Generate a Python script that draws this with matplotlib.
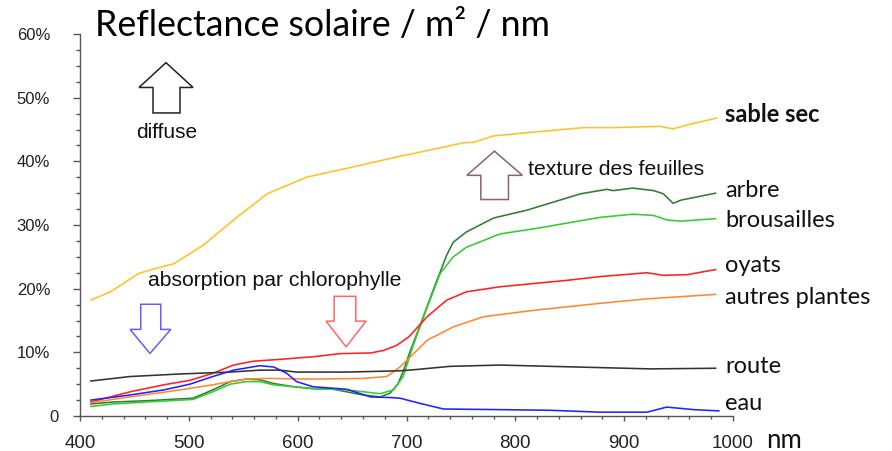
import matplotlib
matplotlib.use("Agg")
import matplotlib.pyplot as plt
from matplotlib.patches import Polygon
from matplotlib.ticker import MultipleLocator, FixedLocator
from matplotlib.transforms import ScaledTranslation

# Spectral reflectance (%) versus wavelength (nm) for several surfaces
sable_nm = [410, 428, 454, 470, 486, 513, 544, 572, 608, 645, 676, 694, 703, 752, 762,
            780, 817, 863, 893, 933, 945, 960, 985]
sable_pct = [18.2, 19.5, 22.4, 23.2, 23.9, 26.8, 31.2, 34.9, 37.5, 38.9, 40.1, 40.8, 41.1,
             42.9, 43.0, 44.0, 44.6, 45.3, 45.3, 45.5, 45.1, 45.8, 46.8]

arbre_nm = [410, 431, 461, 504, 522, 538, 553, 565, 578, 596, 614, 633, 645, 660, 676,
            685, 692, 697, 703, 712, 725, 737, 743, 755, 780, 810, 835, 860, 884, 890,
            908, 927, 936, 945, 952, 984]
arbre_pct = [1.9, 2.2, 2.4, 2.8, 4.1, 5.4, 5.8, 5.7, 5.1, 4.6, 4.3, 4.2, 3.8, 3.3, 3.0,
             3.6, 5.0, 7.0, 10.0, 14.0, 20.0, 25.3, 27.3, 28.9, 31.1, 32.3, 33.6, 34.9,
             35.6, 35.4, 35.8, 35.4, 34.9, 33.4, 33.9, 35.0]

brous_nm = [410, 431, 461, 504, 522, 538, 553, 565, 578, 614, 645, 676, 688, 697, 706,
            719, 731, 743, 755, 786, 817, 878, 908, 927, 939, 952, 984]
brous_pct = [1.5, 1.9, 2.2, 2.6, 3.8, 5.0, 5.4, 5.4, 4.9, 4.3, 4.1, 3.5, 4.1, 6.2, 11.0,
             17.1, 22.4, 25.0, 26.5, 28.6, 29.4, 31.2, 31.7, 31.5, 30.8, 30.6, 31.0]

oyats_nm = [410, 446, 477, 501, 522, 541, 559, 584, 614, 639, 667, 679, 691, 702, 719,
            737, 755, 786, 847, 878, 921, 936, 958, 984]
oyats_pct = [2.2, 3.8, 4.9, 5.6, 6.7, 8.0, 8.6, 8.9, 9.3, 9.8, 9.9, 10.3, 11.1, 12.4,
             15.6, 18.2, 19.5, 20.3, 21.3, 21.9, 22.5, 22.1, 22.2, 23.0]

autres_nm = [410, 446, 492, 522, 538, 553, 572, 614, 660, 682, 694, 703, 719, 743, 771,
             817, 878, 921, 984]
autres_pct = [2.1, 3.0, 4.1, 4.9, 5.4, 5.8, 5.9, 5.8, 5.9, 6.2, 7.7, 9.2, 11.9, 14.0,
              15.6, 16.6, 17.7, 18.4, 19.1]

route_nm = [410, 446, 492, 538, 565, 584, 599, 645, 694, 709, 740, 786, 832, 878, 924, 984]
route_pct = [5.5, 6.2, 6.6, 6.9, 7.2, 7.2, 6.9, 6.9, 7.1, 7.3, 7.8, 8.0, 7.8, 7.6, 7.4, 7.5]

eau_nm = [410, 446, 477, 501, 522, 541, 565, 578, 590, 599, 614, 645, 667, 685, 694, 712,
          734, 786, 832, 878, 921, 939, 964, 987]
eau_pct = [2.5, 3.3, 4.1, 5.0, 6.2, 7.2, 7.9, 7.7, 6.7, 5.4, 4.6, 4.2, 3.0, 2.9, 2.8, 2.0,
           1.1, 1.0, 0.9, 0.6, 0.6, 1.4, 1.0, 0.8]

series_names = ["sable sec", "arbre", "brousailles", "oyats", "autres plantes", "route", "eau"]
x_ticks = [400, 500, 600, 700, 800, 900, 1000]
y_ticks = [0, 10, 20, 30, 40, 50, 60]
y_tick_labels = ["0", "10%", "20%", "30%", "40%", "50%", "60%"]

series = [
    (sable_nm, sable_pct, "#FFC125"),
    (arbre_nm, arbre_pct, "#2E7D32"),
    (brous_nm, brous_pct, "#33CC33"),
    (oyats_nm, oyats_pct, "#FF2020"),
    (autres_nm, autres_pct, "#FF8833"),
    (route_nm, route_pct, "#333333"),
    (eau_nm, eau_pct, "#2222FF"),
]
label_y = [47.3, 35.4, 30.7, 23.7, 18.65, 7.7, 1.9]

fig = plt.figure(figsize=(8.92, 4.51), dpi=100)
ax = fig.add_axes([80 / 892, 35 / 451, 653 / 892, 382 / 451])

for (xs, ys, col), name, ly in zip(series, series_names, label_y):
    ax.plot(xs, ys, color=col, lw=1.15)
    ax.text(993, ly, name, fontsize=17, family="Lato", va="center", ha="left",
            color="#111111", clip_on=False,
            fontweight="bold" if name == "sable sec" else "normal")

ax.set_xlim(400, 1000)
ax.set_ylim(0, 60)
for s in ("top", "right"):
    ax.spines[s].set_visible(False)
for s in ("left", "bottom"):
    ax.spines[s].set_color("#555555")
    ax.spines[s].set_linewidth(1.0)

ax.xaxis.set_major_locator(FixedLocator(x_ticks))
ax.xaxis.set_minor_locator(MultipleLocator(20))
ax.yaxis.set_major_locator(FixedLocator(y_ticks))
ax.yaxis.set_minor_locator(MultipleLocator(2.5))
ax.set_yticklabels(y_tick_labels)
ax.tick_params(axis="x", which="major", length=3.6, width=1, color="#555555",
               labelsize=13.5, pad=10, labelcolor="#222222")
ax.tick_params(axis="x", which="minor", length=2.5, width=1, color="#555555")
ax.tick_params(axis="y", which="major", length=5, width=1, color="#555555",
               labelsize=12, pad=16.5, labelcolor="#222222")
ax.tick_params(axis="y", which="minor", length=2.9, width=1, color="#555555")
for lab in ax.get_xticklabels() + ax.get_yticklabels():
    lab.set_family("Liberation Sans")
zero_lab = ax.get_yticklabels()[0]
zero_lab.set_transform(zero_lab.get_transform() + ScaledTranslation(8 / 100, 0, fig.dpi_scale_trans))

ax.text(1030.5, -3.8, "nm", fontsize=18.5, family="Lato", va="center", ha="left",
        color="#111111", clip_on=False)


def hollow_arrow(tip_x, tip_y, wing_y, wing_l, wing_r, shaft_l, shaft_r, end_y, color):
    pts = [(tip_x, tip_y), (wing_r, wing_y), (shaft_r, wing_y), (shaft_r, end_y),
           (shaft_l, end_y), (shaft_l, wing_y), (wing_l, wing_y)]
    ax.add_patch(Polygon(pts, closed=True, fill=False, edgecolor=color, lw=1.1,
                         clip_on=False, joinstyle="miter"))


hollow_arrow(479, 55.5, 51.6, 454.2, 503.9, 467.1, 491.9, 47.6, "#222222")
ax.text(480, 44.6, "diffuse", fontsize=15, family="Liberation Sans", ha="center",
        va="center", color="#111111")

hollow_arrow(464.3, 9.83, 13.6, 446.0, 483.4, 455.8, 474.2, 17.55, "#6060FF")
hollow_arrow(644.5, 10.86, 14.9, 626.1, 662.9, 633.5, 653.4, 18.8, "#FF6868")
ax.text(462.8, 21.3, "absorption par chlorophylle", fontsize=15.2,
        family="Liberation Sans", ha="left", va="center", color="#111111")

hollow_arrow(780.8, 41.6, 37.8, 755.4, 806.5, 768.3, 793.7, 34.0, "#8B6464")
ax.text(811.8, 38.7, "texture des feuilles", fontsize=15.2, family="Liberation Sans",
        ha="left", va="center", color="#111111")

fig.text(95 / 892, 1 - 25 / 451, "Reflectance solaire / m² / nm", fontsize=25.7,
         family="Lato", va="center", ha="left", color="#000000")

fig.savefig("out.png", dpi=100, facecolor="white")
